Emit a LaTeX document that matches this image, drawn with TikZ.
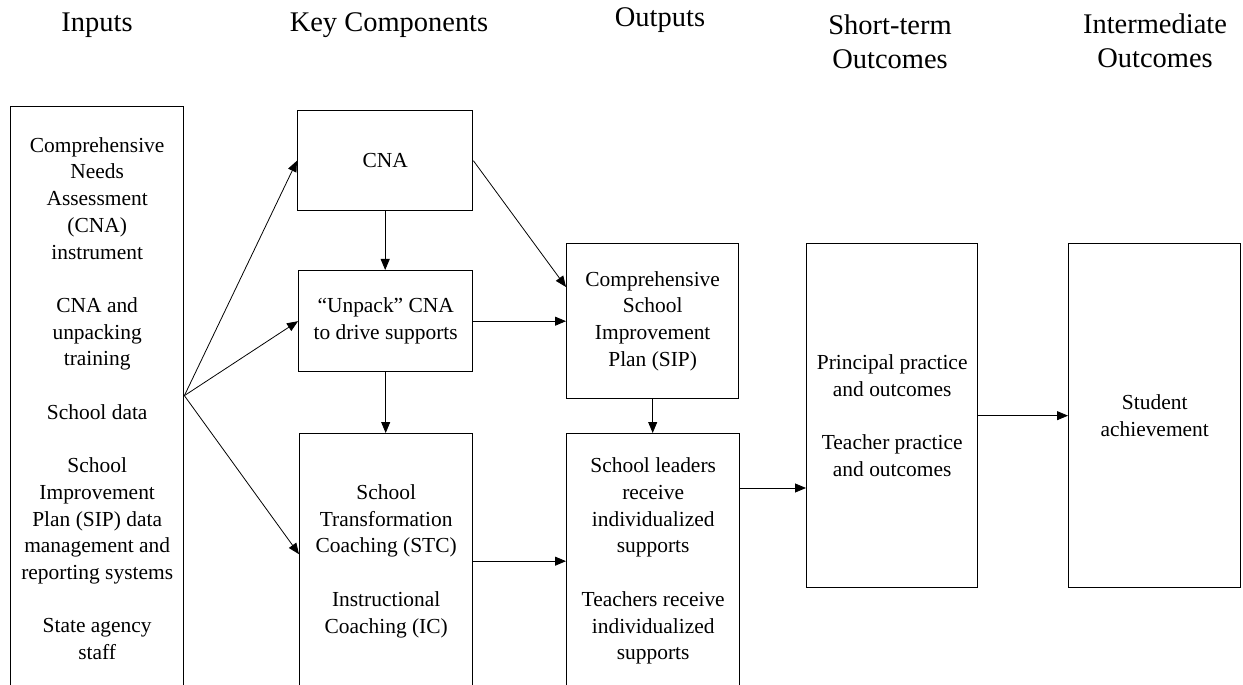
\documentclass[tikz,border=0pt]{standalone}
\usepackage{fontspec}
\setmainfont{Liberation Serif}
\usepackage{tikz}
\usetikzlibrary{arrows.meta,positioning,calc}
\definecolor{lmInk}{HTML}{000000}
\tikzset{
  box/.style       ={draw=lmInk,line width=0.8pt,anchor=north west,align=center,
                     inner sep=2pt,font=\fontsize{12.2}{15.2}\selectfont},
  head/.style      ={align=center,text=lmInk,font=\fontsize{16.2}{19.6}\selectfont},
  flow/.style      ={-{Triangle[length=2.2mm,width=1.8mm]},lmInk,line width=0.45pt},
}

\begin{document}
\begin{tikzpicture}[x=0.02cm,y=-0.02cm]
\useasboundingbox (0,0) rectangle (1243,685);
\clip (0,0) rectangle (1243,685);

%% column headings
\node[head] (hIn)    at (97,25)    {Inputs};
\node[head] (hKey)   at (389,25)   {Key Components};
\node[head] (hOut)   at (660,20)   {Outputs};
\node[head] (hShort) at (890,42)   {Short-term\\Outcomes};
\node[head] (hInter) at (1155,41)  {Intermediate\\Outcomes};

%% boxes
\node[box,minimum width=3.46cm,minimum height=11.68cm] (inputs) at (10,106)
{Comprehensive\\Needs\\Assessment\\(CNA)\\instrument\\[15.2pt]
 CNA and\\unpacking\\training\\[15.2pt]
 School data\\[15.2pt]
 School\\Improvement\\Plan (SIP) data\\management and\\reporting systems\\[15.2pt]
 State agency\\staff};
\node[box,minimum width=3.5cm,minimum height=2.0cm]   (cna)    at (297,110) {CNA};
\node[box,minimum width=3.48cm,minimum height=2.02cm] (unpack) at (298,270)
{``Unpack'' CNA\\to drive supports};
\node[box,minimum width=3.46cm,minimum height=5.1cm]  (stc)    at (299,433)
{School\\Transformation\\Coaching (STC)\\[15.2pt]Instructional\\Coaching (IC)};
\node[box,minimum width=3.44cm,minimum height=3.1cm]  (sip)    at (566,243)
{Comprehensive\\School\\Improvement\\Plan (SIP)};
\node[box,minimum width=3.46cm,minimum height=5.1cm]  (supp)   at (566,433)
{School leaders\\receive\\individualized\\supports\\[15.2pt]
 Teachers receive\\individualized\\supports};
\node[box,minimum width=3.42cm,minimum height=6.88cm] (short)  at (806,243)
{Principal practice\\and outcomes\\[15.2pt]Teacher practice\\and outcomes};
\node[box,minimum width=3.44cm,minimum height=6.88cm] (inter)  at (1068,243)
{Student\\achievement};

%% arrows
\coordinate (fan) at ($(inputs.east)+(0,-3)$);
\draw[flow] (fan) -- (cna.west);
\draw[flow] (fan) -- (unpack.west);
\draw[flow] (fan) -- ($(stc.west)+(0,-7)$);
\draw[flow] (cna.south) -- (cna.south |- unpack.north);
\draw[flow] (unpack.south) -- (unpack.south |- stc.north);
\draw[flow] (cna.east) -- ($(sip.north west)+(0,44)$);
\draw[flow] (unpack.east) -- (sip.west |- unpack.east);
\draw[flow] (sip.south) -- (sip.south |- supp.north);
\draw[flow] (stc.east) -- (supp.west |- stc.east);
\coordinate (suppOut) at ($(supp.north east)+(0,55)$);
\draw[flow] (suppOut) -- (short.west |- suppOut);
\draw[flow] (short.east) -- (inter.west);
\end{tikzpicture}
\end{document}
